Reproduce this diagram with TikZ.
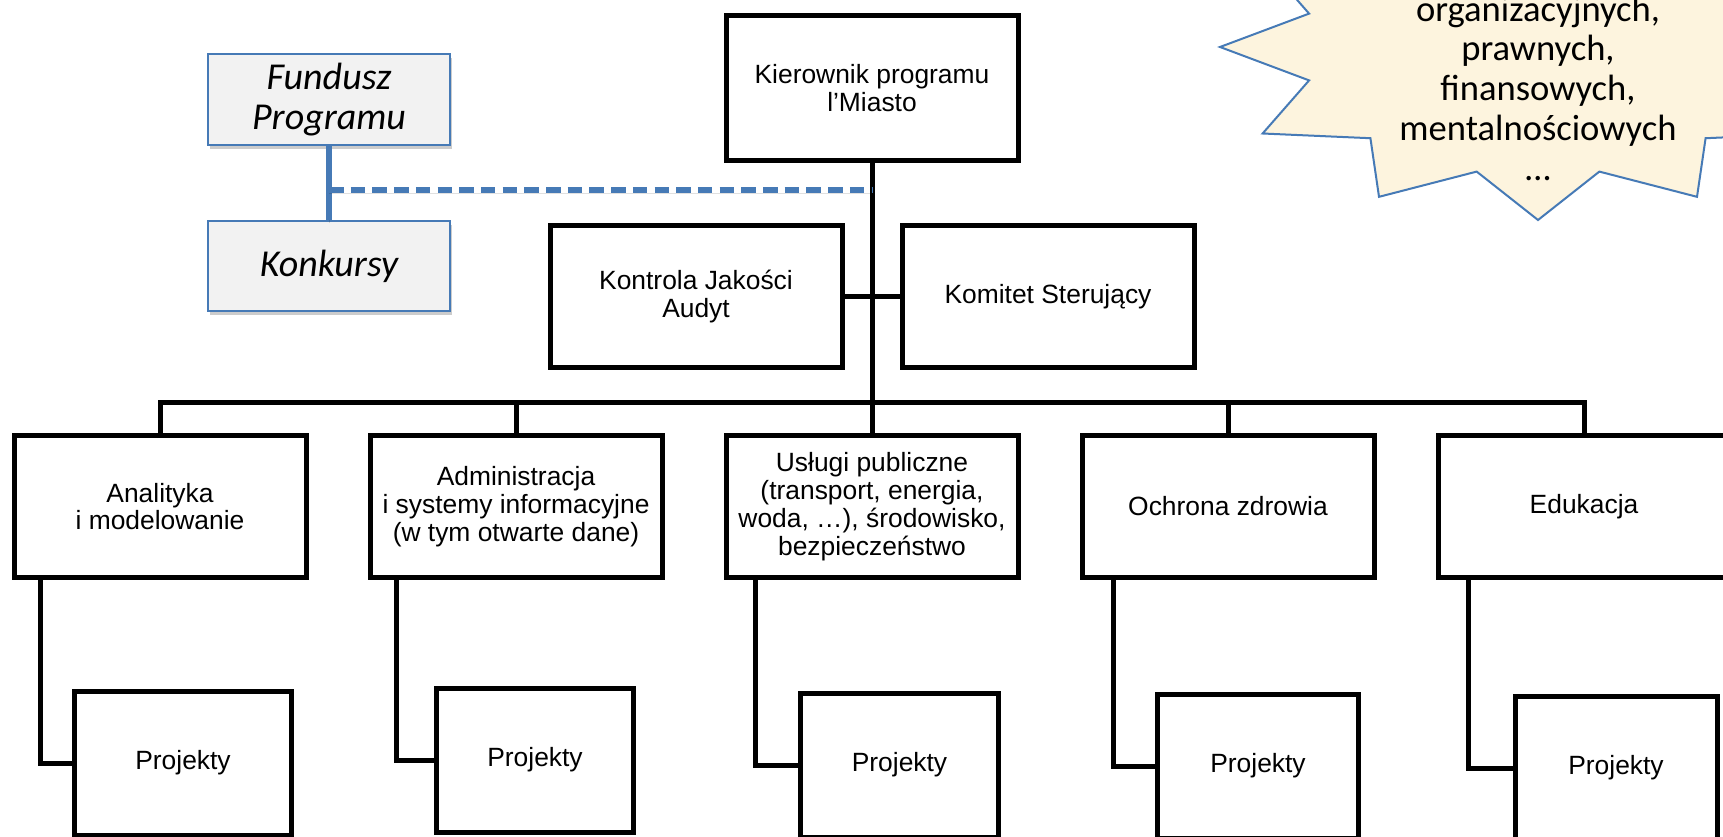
\documentclass[tikz,border=0pt]{standalone}
\usepackage{fontspec}
\setmainfont{Liberation Sans}
\newfontfamily\calibrifont{Carlito}
\usetikzlibrary{positioning, calc, shadows}
\definecolor{linkblue}{RGB}{70,122,182}
\definecolor{boxgray}{RGB}{242,242,242}
\definecolor{noteyellow}{RGB}{253,244,222}
\tikzset{
  unit/.style={draw, line width=5pt, fill=white, minimum width=292pt, minimum height=142.5pt,
    inner sep=0pt, align=center, font=\fontsize{26.4}{27.8}\selectfont},
  proj/.style={draw, line width=5pt, fill=white, minimum width=#1, minimum height=144pt,
    inner sep=0pt, font=\fontsize{26.4}{27.8}\selectfont},
  side/.style={draw=linkblue, line width=1.5pt, fill=boxgray, minimum width=242pt, minimum height=91pt,
    inner sep=0pt, align=center, font=\calibrifont\itshape\fontsize{38}{40}\selectfont,
    drop shadow={shadow xshift=2pt, shadow yshift=-4pt, opacity=0.2, fill=black}},
  link/.style={line width=5pt},
  bluelink/.style={draw=linkblue, line width=5.5pt,
    preaction={draw=black, opacity=0.12, transform canvas={yshift=-3pt}}},
  note/.style={draw=linkblue, line width=2pt, fill=noteyellow},
}

\begin{document}
\begin{tikzpicture}[x=1pt, y=-1pt]
  \useasboundingbox (0,0) rectangle (1723,837);
  % callout star
  \draw[note] (1856,47) \foreach \k in {0,...,11} {
      -- ({1538+237*cos(30*\k+15)}, {47+129*sin(30*\k+15)})
      -- ({1538+318*cos(30*\k+30)}, {47+173*sin(30*\k+30)}) } -- cycle;
  \node[font=\calibrifont\fontsize{36.6}{39.75}\selectfont, align=center] (notetext) at (1538,88)
    {organizacyjnych,\\prawnych,\\finansowych,\\mentalnościowych\\…};
  % management
  \node[unit, minimum height=145.5pt] (boss) at (872,88) {Kierownik programu\\l’Miasto};
  \node[unit] (qa) at (696,296.5) {Kontrola Jakości\\Audyt};
  \node[unit] (sc) at (1048,296.5) {Komitet Sterujący};
  % fund
  \node[side] (fund) at (329,99.5) {Fundusz\\Programu};
  \node[side, minimum height=90pt] (konk) at (329,266) {Konkursy};
  % areas
  \node[unit] (a1) at (160,506.5) {Analityka\\i modelowanie};
  \node[unit] (a2) at (516,506.5) {Administracja\\i systemy informacyjne\\(w tym otwarte dane)};
  \node[unit] (a3) at (872,506.5) {Usługi publiczne\\(transport, energia,\\woda, …), środowisko,\\bezpieczeństwo};
  \node[unit] (a4) at (1228,506.5) {Ochrona zdrowia};
  \node[unit] (a5) at (1584,506.5) {Edukacja};
  % projects
  \node[proj=217.5pt] (p1) at (183,763) {Projekty};
  \node[proj=197.5pt] (p2) at (535,760) {Projekty};
  \node[proj=198.5pt] (p3) at (899.5,765) {Projekty};
  \node[proj=201.5pt] (p4) at (1258,766) {Projekty};
  \node[proj=202pt] (p5) at (1616,768) {Projekty};
  % connectors
  \coordinate (bus) at (872,402);
  \coordinate (tap) at (329,190);
  \draw[link] (boss) -- (a3);
  \draw[link] (qa) -- (sc);
  \draw[link] (a1.north) |- (bus) -| (a5.north);
  \draw[link] (a2.north) -- (a2.north |- bus);
  \draw[link] (a4.north) -- (a4.north |- bus);
  \draw[link] ($(a1.south west)+(29,0)$) |- (p1.west);
  \draw[link] ($(a2.south west)+(29,0)$) |- (p2.west);
  \draw[link] ($(a3.south west)+(32,0)$) |- (p3.west);
  \draw[link] ($(a4.south west)+(34,0)$) |- (p4.west);
  \draw[link] ($(a5.south west)+(33,0)$) |- (p5.west);
  \draw[bluelink] (fund) -- (konk);
  \draw[bluelink, dash pattern=on 14.5pt off 7.2pt] (tap) -- (tap -| boss);
\end{tikzpicture}
\end{document}
